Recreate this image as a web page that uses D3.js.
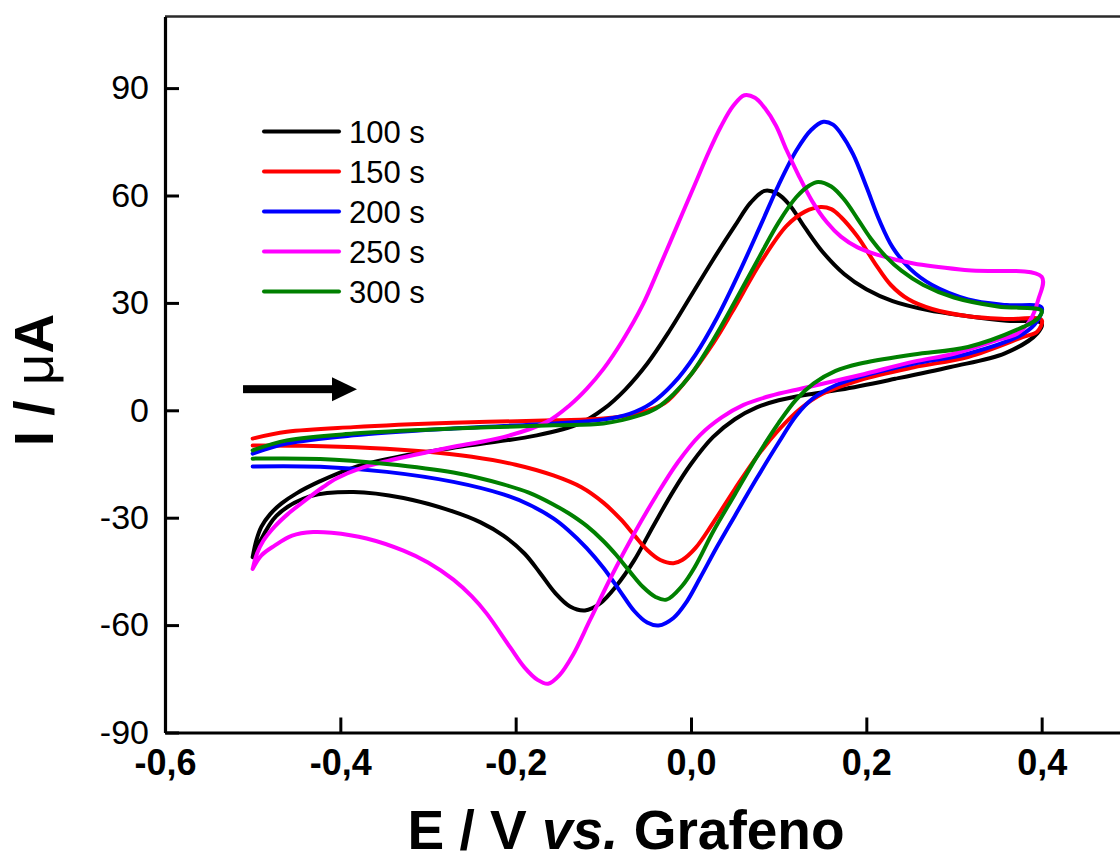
<!DOCTYPE html>
<html>
<head>
<meta charset="utf-8">
<script src="https://cdn.jsdelivr.net/npm/d3@7"></script>
<style>
  html, body { margin: 0; padding: 0; background: #fff; }
  svg { display: block; }
  text { font-family: "Liberation Sans", Arial, Helvetica, sans-serif; fill: #000; }
</style>
</head>
<body>
<svg id="chart" width="1120" height="861"></svg>
<script>
// Cyclic voltammograms, [E (V), I (µA)] along the scan: forward to +0.4 V, then back to -0.5 V
const scan100s = [
  [-0.5,-41],[-0.496,-36.5],[-0.49,-32.5],[-0.48,-29],[-0.467,-26],[-0.45,-23.2],[-0.423,-19.8],
  [-0.385,-16],[-0.328,-12.7],[-0.252,-9.8],[-0.176,-7],[-0.127,-3.7],[-0.1,0.3],[-0.075,5.8],[-0.05,13],
  [-0.025,22],[0.0,32],[0.025,42],[0.05,51.5],[0.068,58],[0.084,61.3],[0.098,60.6],[0.112,57.5],
  [0.13,51],[0.15,44.3],[0.175,38],[0.2,33.8],[0.23,30.5],[0.27,28],[0.316,26.3],[0.36,25],[0.4,24.3],
  [0.395,21.5],[0.358,15.9],[0.296,12.1],[0.233,8.8],[0.171,5.8],[0.13,4.3],[0.1,2.8],[0.075,0.8],
  [0.05,-2.5],[0.025,-7.5],[0.0,-15],[-0.02,-22.5],[-0.043,-32.3],[-0.065,-42],[-0.085,-49],[-0.104,-54],
  [-0.121,-55.9],[-0.138,-54.8],[-0.155,-51],[-0.172,-45.5],[-0.19,-40],[-0.214,-35],[-0.24,-31.3],
  [-0.271,-28.3],[-0.328,-24.5],[-0.385,-22.8],[-0.434,-24],[-0.473,-29.5],[-0.5,-41]
];
const scan150s = [
  [-0.5,-7.9],[-0.461,-6],[-0.385,-4.7],[-0.271,-3.5],[-0.157,-2.8],[-0.1,-2.3],[-0.06,-0.8],[-0.03,2],
  [-0.005,8.5],[0.026,19],[0.047,27.5],[0.08,41.5],[0.109,51.5],[0.13,55.5],[0.148,56.8],[0.16,56.2],
  [0.171,54],[0.19,48.5],[0.21,41],[0.228,35],[0.248,31],[0.275,28.3],[0.316,26.3],[0.36,25.5],[0.4,25.2],
  [0.395,22],[0.379,20.5],[0.316,14.9],[0.254,12],[0.192,8.4],[0.15,4.6],[0.125,0.5],[0.1,-5.5],[0.075,-13],
  [0.05,-22],[0.025,-31.5],[0.005,-38.5],[-0.01,-41.8],[-0.02,-42.7],[-0.035,-41.8],[-0.05,-39],
  [-0.065,-34.8],[-0.08,-30.5],[-0.1,-25.8],[-0.125,-21.5],[-0.157,-18.2],[-0.2,-15.2],[-0.25,-13],
  [-0.3,-11.6],[-0.366,-10.5],[-0.442,-9.9],[-0.5,-9.8]
];
const scan200s = [
  [-0.5,-12.1],[-0.461,-9.3],[-0.385,-7],[-0.271,-5.1],[-0.157,-3.7],[-0.1,-2.6],[-0.07,-1],[-0.045,2],
  [-0.02,7.5],[0.005,15.5],[0.03,26],[0.055,38.5],[0.08,52],[0.1,63],[0.12,72.5],[0.137,78.3],[0.151,80.6],
  [0.162,79.8],[0.171,77.3],[0.185,71.5],[0.2,62.5],[0.215,53],[0.23,45.5],[0.25,39.5],[0.275,35],
  [0.316,31],[0.36,29.4],[0.4,28.7],
  [0.395,25],[0.379,21.4],[0.316,15.8],[0.254,13],[0.192,9.3],[0.165,7],[0.14,3.5],[0.12,-1.5],[0.1,-9],
  [0.075,-19],[0.05,-29.5],[0.03,-38],[0.01,-47],[-0.005,-53.5],[-0.02,-58],[-0.037,-60.1],[-0.05,-59.3],
  [-0.065,-56],[-0.081,-50.5],[-0.1,-44],[-0.119,-38.5],[-0.14,-33.5],[-0.157,-30.2],[-0.185,-26.3],
  [-0.214,-23.5],[-0.271,-20],[-0.347,-17.2],[-0.423,-15.8],[-0.5,-15.7]
];
const scan250s = [
  [-0.5,-44.3],[-0.495,-40],[-0.488,-36.5],[-0.475,-32.5],[-0.46,-29],[-0.442,-25.5],[-0.42,-21.5],
  [-0.404,-19],[-0.375,-16],[-0.347,-14.2],[-0.271,-10.2],[-0.214,-7.5],[-0.165,-3.3],[-0.138,1.5],
  [-0.119,6],[-0.1,11.5],[-0.078,19.5],[-0.055,29.5],[-0.036,40],[-0.015,52],[0.005,63.4],[0.02,72],
  [0.034,79.2],[0.048,85],[0.061,88],[0.073,87.3],[0.084,84.5],[0.097,79.5],[0.109,72.7],[0.122,66],
  [0.138,58.5],[0.155,52.5],[0.171,48.5],[0.19,45.5],[0.212,43.5],[0.254,41],[0.316,39.1],[0.4,37.3],
  [0.396,30.8],[0.387,25.2],[0.372,21.4],[0.349,19.6],[0.3,15.8],[0.254,13.6],[0.192,9.8],[0.13,6.3],
  [0.09,4],[0.06,1.5],[0.035,-2],[0.01,-7],[-0.015,-14.5],[-0.04,-24],[-0.065,-34.5],[-0.09,-46],
  [-0.115,-58.5],[-0.135,-68.5],[-0.15,-74],[-0.163,-76.4],[-0.175,-75.3],[-0.19,-71.8],[-0.206,-66.3],
  [-0.233,-56.8],[-0.25,-52],[-0.271,-47.3],[-0.3,-42.5],[-0.328,-39.2],[-0.37,-35.8],[-0.41,-34.2],
  [-0.431,-34],[-0.455,-35],[-0.475,-37.8],[-0.49,-40.5],[-0.5,-44.3]
];
const scan300s = [
  [-0.5,-11.2],[-0.461,-8.4],[-0.385,-6.5],[-0.271,-5.1],[-0.157,-4.2],[-0.1,-3.7],[-0.06,-1.5],
  [-0.04,0.5],[-0.02,4.5],[0.0,10],[0.025,19.5],[0.05,30.3],[0.075,41.5],[0.1,52.5],[0.12,59.5],
  [0.135,62.8],[0.145,63.8],[0.16,62.5],[0.175,58.8],[0.19,53.5],[0.205,48],[0.222,43],[0.24,39],
  [0.265,35],[0.3,31.5],[0.35,29],[0.4,27.8],
  [0.395,25.5],[0.379,23.3],[0.316,17.7],[0.254,15.6],[0.192,13],[0.165,11],[0.14,7.5],[0.12,3],
  [0.1,-3.5],[0.075,-13],[0.05,-23.5],[0.025,-34],[0.005,-43.5],[-0.01,-49],[-0.028,-52.9],[-0.04,-52.2],
  [-0.055,-49.3],[-0.07,-45],[-0.085,-40.5],[-0.1,-36.5],[-0.119,-32.3],[-0.14,-28.7],[-0.157,-26.3],
  [-0.185,-23],[-0.214,-20.7],[-0.271,-17.4],[-0.347,-15],[-0.423,-13.6],[-0.5,-13.5]
];

const seriesNames = ["100 s", "150 s", "200 s", "250 s", "300 s"];
const seriesData = [scan100s, scan150s, scan200s, scan250s, scan300s];
const seriesColors = ["#000000", "#ff0000", "#0000ff", "#ff00ff", "#008000"];

const xTicks = [-0.6, -0.4, -0.2, 0.0, 0.2, 0.4];
const yTicks = [-90, -60, -30, 0, 30, 60, 90];
const xDomain = [-0.6, 0.6];
const yDomain = [-90, 110];

// scan-direction arrow: tail and tip as [E, I]
const arrowTail = [-0.511, 5.9];
const arrowTip = [-0.381, 5.9];

// ---- layout ----
const svg = d3.select("#chart");
svg.append("rect").attr("width", 1120).attr("height", 861).attr("fill", "#fff");

const x = d3.scaleLinear().domain(xDomain).range([165, 1217]);
const y = d3.scaleLinear().domain(yDomain).range([732.5, 16.5]);

// frame top edge
svg.append("line")
  .attr("x1", x(xDomain[0])).attr("x2", x(xDomain[1]))
  .attr("y1", y(yDomain[1])).attr("y2", y(yDomain[1]))
  .attr("stroke", "#2a2a2a").attr("stroke-width", 2.5);

// curves
const line = d3.line()
  .x(d => x(d[0])).y(d => y(d[1]))
  .curve(d3.curveCatmullRom.alpha(0.5));

svg.append("g").selectAll("path")
  .data(seriesData)
  .join("path")
  .attr("d", line)
  .attr("fill", "none")
  .attr("stroke", (d, i) => seriesColors[i])
  .attr("stroke-width", 4)
  .attr("stroke-linejoin", "round")
  .attr("stroke-linecap", "round");

// axes
const xAxis = d3.axisBottom(x)
  .tickValues(xTicks)
  .tickSizeInner(-15).tickSizeOuter(0).tickPadding(17)
  .tickFormat(d => d3.format(".1f")(d).replace("−", "-").replace(".", ","));

const yAxis = d3.axisLeft(y)
  .tickValues(yTicks)
  .tickSizeInner(-14).tickSizeOuter(0).tickPadding(16)
  .tickFormat(d => String(d));

const gx = svg.append("g").attr("transform", `translate(0,${y(yDomain[0])})`).call(xAxis);
gx.select(".domain").attr("stroke", "#000").attr("stroke-width", 3.2);
gx.selectAll(".tick line").attr("stroke", "#000").attr("stroke-width", 3);
gx.selectAll(".tick text")
  .attr("font-family", "'Liberation Sans', Arial, sans-serif")
  .attr("font-size", 36).attr("font-weight", "bold").attr("fill", "#000");

const gy = svg.append("g").attr("transform", `translate(${x(xDomain[0])},0)`).call(yAxis);
gy.select(".domain").attr("stroke", "#000").attr("stroke-width", 3.2);
gy.selectAll(".tick line").attr("stroke", "#000").attr("stroke-width", 3);
gy.selectAll(".tick text")
  .attr("font-family", "'Liberation Sans', Arial, sans-serif")
  .attr("font-size", 34).attr("fill", "#000");

// axis titles
const xTitle = svg.append("text")
  .attr("x", 626).attr("y", 849)
  .attr("text-anchor", "middle")
  .attr("font-size", 55).attr("font-weight", "bold");
xTitle.append("tspan").text("E / V ");
xTitle.append("tspan").attr("font-style", "italic").text("vs.");
xTitle.append("tspan").text(" Grafeno");

const yTitle = svg.append("text")
  .attr("transform", "translate(53,380) rotate(-90)")
  .attr("text-anchor", "middle")
  .attr("font-size", 55).attr("font-weight", "bold");
yTitle.append("tspan").text("I / ");
yTitle.append("tspan").attr("font-weight", "normal").text("\u03BC");
yTitle.append("tspan").text("A");

// legend
const legend = svg.append("g");
seriesNames.forEach((name, i) => {
  const ly = 131.5 + i * 40;
  legend.append("line")
    .attr("x1", 264).attr("x2", 339).attr("y1", ly).attr("y2", ly)
    .attr("stroke", seriesColors[i]).attr("stroke-width", 4).attr("stroke-linecap", "round");
  legend.append("text")
    .attr("x", 349).attr("y", ly + 11)
    .attr("font-size", 31).text(name);
});

// scan-direction arrow
const ax0 = x(arrowTail[0]), ax1 = x(arrowTip[0]), ay = y(arrowTail[1]);
const headLen = 25, headHalf = 12, shaft = 8;
svg.append("rect")
  .attr("x", ax0).attr("y", ay - shaft / 2)
  .attr("width", ax1 - headLen - ax0 + 1).attr("height", shaft)
  .attr("fill", "#000");
svg.append("path")
  .attr("d", `M${ax1 - headLen},${ay - headHalf} L${ax1},${ay} L${ax1 - headLen},${ay + headHalf} Z`)
  .attr("fill", "#000");
</script>
</body>
</html>
